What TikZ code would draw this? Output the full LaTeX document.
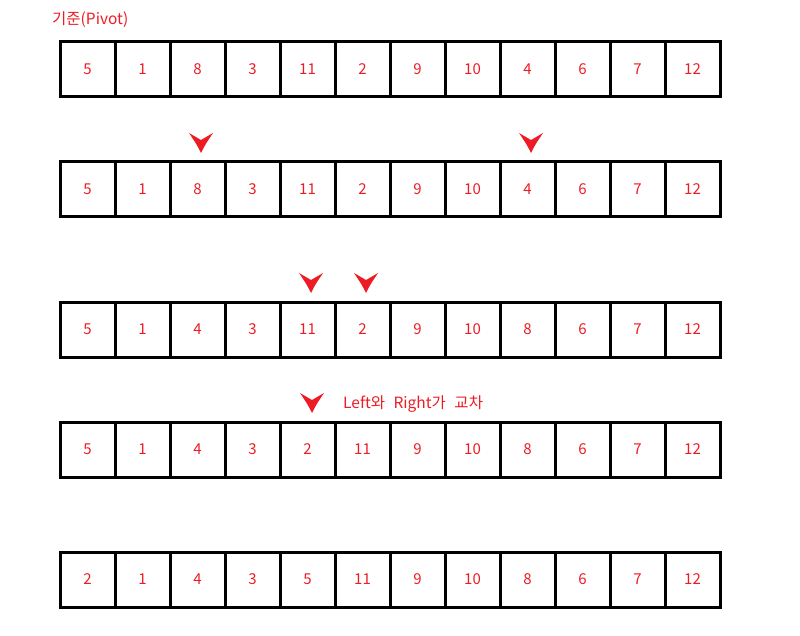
\documentclass[tikz,border=0pt]{standalone}
\usepackage{fontspec}
\setmainfont{Noto Sans CJK KR}
\definecolor{myred}{HTML}{ED1C24}
\begin{document}
\begin{tikzpicture}[x=1pt,y=-1pt,
  cell/.style={draw=black, line width=3pt, minimum width=55pt, minimum height=55pt, inner sep=0pt, text=myred, font=\fontsize{15}{17}\selectfont},
  note/.style={text=myred, inner sep=0pt, anchor=west, font=\fontsize{15.5}{17}\selectfont},
  pointer/.style={fill=myred}]
\useasboundingbox (0,0) rectangle (800,636);
\foreach \r/\y/\vals in {1/69.5/{5,1,8,3,11,2,9,10,4,6,7,12},
                         2/189.5/{5,1,8,3,11,2,9,10,4,6,7,12},
                         3/329.5/{5,1,4,3,11,2,9,10,8,6,7,12},
                         4/449.5/{5,1,4,3,2,11,9,10,8,6,7,12},
                         5/579.5/{2,1,4,3,5,11,9,10,8,6,7,12}}{
  \foreach \v [count=\c] in \vals {
    \node[cell] (r\r c\c) at ({32.5+55*\c},\y) {\v};
  }
}
\node[note] (pivot) at (52,20) {기준(Pivot)};
\node[note] (cross) at (343,404) {\spaceskip=8.5pt Left와 Right가 교차};
\foreach \n/\x/\y in {a/201/153, b/531/153, c/311/293, d/366/293, e/312/413}{
  \coordinate (tip\n) at (\x,\y);
  \fill[pointer] (tip\n) .. controls +(-4,-8) .. ++(-12,-20) -- ++(12,7) -- ++(12,-7) .. controls +(-8,12) .. (tip\n) -- cycle;
}
\end{tikzpicture}
\end{document}
